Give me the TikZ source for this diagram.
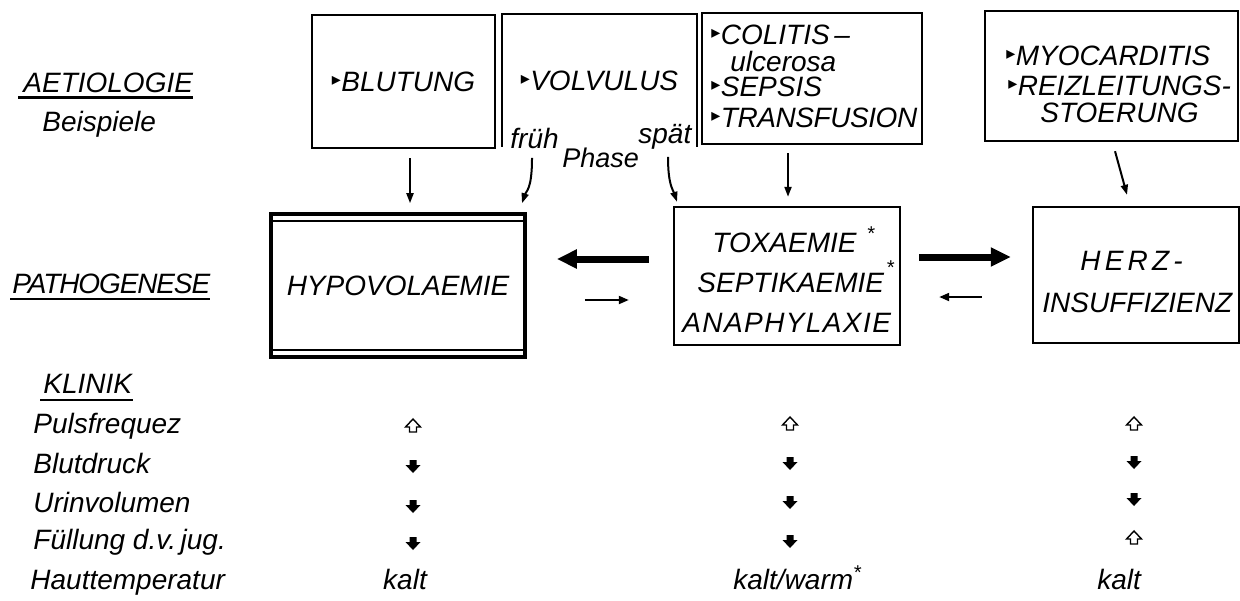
\documentclass[tikz,border=0pt]{standalone}
\usepackage{fontspec}
\setmainfont{Liberation Sans}
\newfontfamily\symfont{DejaVu Sans}
\usetikzlibrary{arrows.meta}
\newcommand\tri{\raisebox{2.6pt}{\symfont\upshape\fontsize{9}{9}\selectfont ▸}\kern0.2pt}
\tikzset{
  box/.style={draw, line width=1.2pt, inner sep=0pt},
  lbl/.style={inner sep=0pt, anchor=base west},
  etiarr/.style={line width=1pt, -{Triangle[length=5pt,width=3.5pt]}},
  thinarr/.style={line width=1pt, -{Triangle[length=5pt,width=4pt]}},
  bigarr/.style={line width=3.5pt, -{Triangle[length=10pt,width=9pt]}},
  uline/.style={line width=1.2pt},
  upsym/.pic={\draw[line width=0.7pt, fill=white] (0,-7) -- (7.5,1) -- (3.5,1) -- (3.5,6) -- (-3.5,6) -- (-3.5,1) -- (-7.5,1) -- cycle;},
  dnsym/.pic={\fill (0,7) -- (7.5,-1) -- (3.5,-1) -- (3.5,-6) -- (-3.5,-6) -- (-3.5,-1) -- (-7.5,-1) -- cycle;}
}
\begin{document}
\begin{tikzpicture}[x=0.5pt,y=-0.5pt,font=\itshape\fontsize{14}{16}\selectfont]
\useasboundingbox[fill=white] (0,0) rectangle (1240,600);

% left labels
\node[lbl] (aet) at (23,92) {AETIOLOGIE};
\draw[uline] (18,97.5) -- (193,97.5);
\node[lbl] (beisp) at (42,131) {Beispiele};
\node[lbl] (path) at (12,293) {\addfontfeatures{LetterSpace=-4}PATHOGENESE};
\draw[uline] (10,299) -- (210,299);
\node[lbl] (klin) at (43,393) {KLINIK};
\draw[uline] (40,400) -- (133,400);
\node[lbl] (k1) at (33,433) {Pulsfrequez};
\node[lbl] (k2) at (33,473) {Blutdruck};
\node[lbl] (k3) at (33,512) {Urinvolumen};
\node[lbl] (k4) at (33,549) {Füllung d.v.\,jug.};
\node[lbl] (k5) at (30,589) {Hauttemperatur};

% aetiology boxes
\node[box, minimum width=91.5pt, minimum height=66.5pt] (blut) at (403.5,81.5) {\tri BLUTUNG};
\node[inner sep=0pt, minimum width=97pt, minimum height=66pt] (volv) at (599.5,80.5) {\tri VOLVULUS};
\draw[line width=1.2pt] (volv.south west) -- (volv.north west) -- (volv.north east) -- (volv.south east);
\node[box, minimum width=110pt, minimum height=65.5pt] (coli) at (812,78.5) {};
\node[lbl] (c1) at (711,44) {\tri COLITIS\,–};
\node[lbl] (c2) at (730,71) {ulcerosa};
\node[lbl] (c3) at (711,96) {\tri SEPSIS};
\node[lbl] (c4) at (711,127) {\tri\addfontfeatures{LetterSpace=-1.5}TRANSFUSION};
\node[box, minimum width=126.5pt, minimum height=65pt] (myo) at (1111.5,76) {};
\node[lbl] (m1) at (1006,65) {\tri MYOCARDITIS};
\node[lbl] (m2) at (1008,95) {\tri REIZLEITUNGS-};
\node[lbl] (m3) at (1040,122) {STOERUNG};

\node[lbl] (fr) at (510,148) {früh};
\node[lbl, font=\itshape\fontsize{13.5}{16}\selectfont] (ph) at (562,167) {Phase};
\node[lbl] (sp) at (638,143) {spät};

% pathogenesis boxes
\node[draw, line width=1.8pt, inner sep=0pt, minimum width=127pt, minimum height=71.5pt] (hypo) at (398,285.5) {HYPOVOLAEMIE};
\draw[line width=1pt] ([yshift=-4.5pt]hypo.north west) -- ([yshift=-4.5pt]hypo.north east);
\draw[line width=1pt] ([yshift=4.5pt]hypo.south west) -- ([yshift=4.5pt]hypo.south east);
\node[box, minimum width=113pt, minimum height=69pt] (tox) at (787,276) {};
\node[lbl] (t1) at (712,252) {TOXAEMIE\kern5pt\raisebox{6pt}{\fontsize{10}{10}\selectfont *}};
\node[lbl] (t2) at (697,292) {SEPTIKAEMIE\kern1pt\raisebox{9pt}{\fontsize{10}{10}\selectfont *}};
\node[lbl] (t3) at (682,332) {\addfontfeatures{LetterSpace=5}ANAPHYLAXIE};
\node[box, minimum width=103pt, minimum height=68pt] (herz) at (1136,275) {};
\node[lbl] (h1) at (1080,270) {\addfontfeatures{LetterSpace=15}HERZ-};
\node[lbl] (h2) at (1042,312) {INSUFFIZIENZ};

% connectors
\draw[etiarr] ([xshift=3.25pt,yshift=-4.5pt]blut.south) -- ([xshift=6pt,yshift=4.5pt]hypo.north);
\draw[etiarr] ([xshift=-33.75pt,yshift=-5.5pt]volv.south) .. controls +(0,-16pt) and +(2pt,6pt) .. ([xshift=62pt,yshift=4.5pt]hypo.north);
\draw[etiarr] ([xshift=34.25pt,yshift=-5pt]volv.south) .. controls +(0,-14pt) and +(-2pt,6pt) .. ([xshift=-55pt,yshift=2pt]tox.north);
\draw[etiarr] ([xshift=-12pt,yshift=-4pt]coli.south) -- ([xshift=0.5pt,yshift=4.5pt]tox.north);
\draw[etiarr] ([xshift=1.75pt,yshift=-4.5pt]myo.south) -- ([xshift=-4.5pt,yshift=5.5pt]herz.north);

\draw[bigarr] ([xshift=-12pt,yshift=8.5pt]tox.west) -- ([xshift=15pt,yshift=13.25pt]hypo.east);
\draw[thinarr] ([xshift=29pt,yshift=-7.25pt]hypo.east) -- ([xshift=-22pt,yshift=-12pt]tox.west);
\draw[bigarr] ([xshift=9pt,yshift=9.5pt]tox.east) -- ([xshift=-10.5pt,yshift=9pt]herz.west);
\draw[thinarr] ([xshift=-25pt,yshift=-11pt]herz.west) -- ([xshift=19pt,yshift=-10.5pt]tox.east);

% clinical signs
\pic at (413,426) {upsym};
\pic at (413,466) {dnsym};
\pic at (413,506) {dnsym};
\pic at (413,543) {dnsym};
\node[inner sep=0pt, anchor=base] (kalt1) at (405,589) {kalt};

\pic at (790,424) {upsym};
\pic at (790,463) {dnsym};
\pic at (790,502) {dnsym};
\pic at (790,541) {dnsym};
\node[lbl] (kalt2) at (733,589) {kalt/warm\raisebox{5pt}{\fontsize{10}{10}\selectfont *}};

\pic at (1134,424) {upsym};
\pic at (1134,462) {dnsym};
\pic at (1134,499) {dnsym};
\pic at (1134,538) {upsym};
\node[lbl] (kalt3) at (1097,589) {kalt};
\end{tikzpicture}
\end{document}
